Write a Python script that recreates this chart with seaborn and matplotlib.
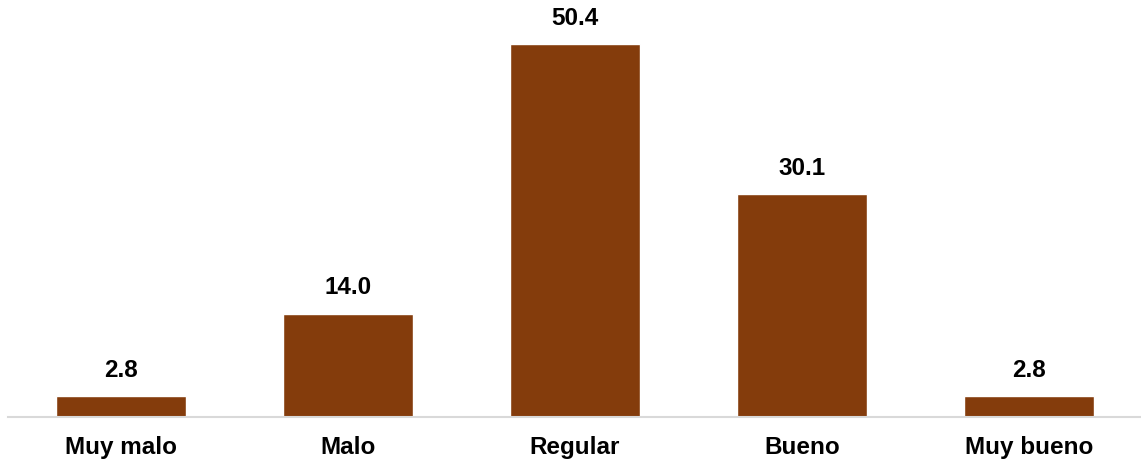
import seaborn as sns
import pandas as pd
from matplotlib import pyplot as plt

categorias = ["Muy malo", "Malo", "Regular", "Bueno", "Muy bueno"]
valores = [2.8, 14.0, 50.4, 30.1, 2.8]

sns.set_style("white")
plt.rcParams['font.family'] = ['Liberation Sans', 'DejaVu Sans']

df = pd.DataFrame({"categoria": categorias, "valor": valores})

fig = plt.figure(figsize=(11.41, 4.61), dpi=100)
ax = fig.add_axes([0.0066, 0.0954, 0.9947, 0.9046])
sns.barplot(data=df, x="categoria", y="valor", color="#843C0C", saturation=1,
            width=0.57, ax=ax)

ax.set_xlim(-0.5, 4.5)
ax.set_ylim(0, 56.4)
for p, v in zip(ax.patches, valores):
    ax.annotate(f"{v:.1f}", (p.get_x() + p.get_width() / 2, p.get_height()),
                xytext=(0, 10.5), textcoords="offset points",
                ha="center", va="bottom", fontsize=17.5, fontweight="bold",
                color="black")

for s in ["top", "right", "left"]:
    ax.spines[s].set_visible(False)
ax.spines["bottom"].set_color("#D9D9D9")
ax.spines["bottom"].set_linewidth(1.5)
ax.set_yticks([])
ax.set_xlabel("")
ax.set_ylabel("")
ax.tick_params(axis="x", length=0, pad=13.5, labelsize=17.5, labelcolor="black")
for t in ax.get_xticklabels():
    t.set_fontweight("bold")

fig.savefig("out.png", dpi=100)
